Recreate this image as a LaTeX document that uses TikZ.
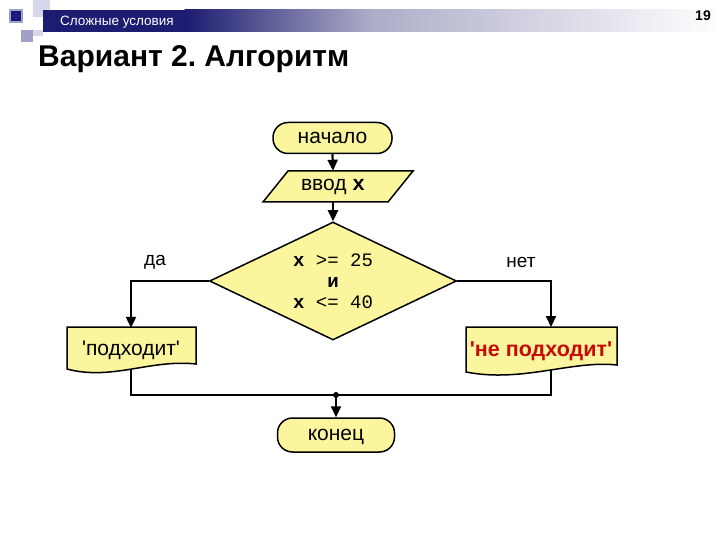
\documentclass[tikz,border=0pt]{standalone}
\usepackage{fontspec}
\setmainfont{Liberation Sans}[Ligatures=TeXOff]
\newfontfamily\monof{Liberation Mono}[Ligatures=TeXOff]
\usetikzlibrary{arrows.meta,shapes.geometric,calc}
\definecolor{yel}{RGB}{251,245,158}
\definecolor{navy}{RGB}{28,28,112}
\definecolor{midlav}{RGB}{172,172,200}
\definecolor{lav}{RGB}{214,214,236}
\definecolor{lav2}{RGB}{160,160,200}
\definecolor{redt}{RGB}{200,10,10}
\pgfdeclarelayer{bgw}
\pgfdeclarelayer{conn}
\pgfdeclarelayer{shp}
\pgfsetlayers{bgw,conn,shp,main}
\tikzset{
  ln/.style={line width=2.2pt},
  arr/.style={ln,-{Triangle[length=11pt,width=10pt]}},
  term/.style={draw,fill=yel,line width=1.5pt,rectangle,rounded corners=15pt,minimum width=118pt,minimum height=31pt,text depth=0pt,font=\fontsize{21}{24}\selectfont},
  shapebox/.style={draw,fill=yel,line width=1.5pt},
  txt/.style={inner sep=0pt,font=\fontsize{21}{24}\selectfont},
  lbl/.style={font=\fontsize{19}{22}\selectfont}
}
\begin{document}
\frenchspacing
\begin{tikzpicture}[x=1pt,y=-1pt]
\useasboundingbox (0,0) rectangle (720,540);
\begin{pgfonlayer}{bgw}
\fill[white] (0,0) rectangle (720,540);
% header decoration
\fill[lav] (33,0) rectangle (50,17);
\fill[lav] (43,17) rectangle (53,30);
\fill[lav2] (21,30) rectangle (33,42);
\fill[lav] (33,30) rectangle (43,36);
\fill[navy] (43,10) rectangle (185,32);
\shade[left color=navy,right color=midlav] (184.5,10) rectangle (370,32);
\shade[left color=midlav,right color=white] (369.5,10) rectangle (720,32);
\fill[lav2] (9,9) rectangle (23,23);
\fill[navy!90!blue] (11,11) rectangle (21,21);
\end{pgfonlayer}
\node[anchor=base west,text=white,inner sep=0pt,font=\fontsize{13.5}{16}\selectfont] (hdr) at (60,26) {Сложные условия};
\node[anchor=base east,inner sep=0pt,font=\fontsize{14}{16}\selectfont\bfseries] (pg) at (711,21) {19};
\node[anchor=base west,inner sep=0pt,font=\fontsize{30}{34}\selectfont\bfseries] (title) at (38,67) {Вариант 2. Алгоритм};
% flowchart
\node[term,minimum width=119pt,minimum height=31pt] (start) at (332.5,138) {начало};
\node[txt,minimum height=31pt] (inp) at (333,186.5) {ввод {\monof\bfseries x}};
\begin{pgfonlayer}{shp}
\draw[shapebox] (263,202) -- (288,171) -- (413,171) -- (388,202) -- cycle;
\draw[shapebox] (67,327) -- (196,327) -- (196,364) .. controls (150,359) and (112,381) .. (67,369) -- cycle;
\draw[shapebox] (466,327) -- (617,327) -- (617,365) .. controls (572,360) and (522,383) .. (466,372) -- cycle;
\end{pgfonlayer}
\node[diamond,draw,fill=yel,line width=1.5pt,minimum width=247pt,minimum height=118pt,inner sep=0pt,shape aspect=2.1,align=center,font=\monof\fontsize{19}{21}\selectfont] (dec) at (333,281) {\textbf{x} >= 25\\ \textbf{и}\\ \textbf{x} <= 40};
\node[txt,minimum height=40pt,text depth=0pt] (pd) at (131,348) {'подходит'};
\node[txt,text=redt,text depth=0pt,font=\fontsize{21.5}{24}\selectfont\bfseries] (npd) at (541,349) {'не подходит'};
\coordinate (npdtop) at (551,327);
\coordinate (pdbot) at (131,369);
\coordinate (npdbot) at (551,367);
\coordinate (m) at (336,395);
\node[term,minimum width=117pt,minimum height=34pt] (end) at (336,435) {конец};
\node[lbl] (yes) at (155,262) {да};
\node[lbl] (no) at (521,262) {нет};
\begin{pgfonlayer}{conn}
\draw[arr] (start.south) -- (inp.north);
\draw[arr] (inp.south) -- (dec.north);
\draw[arr] (dec.west) -| (pd.north);
\draw[arr] (dec.east) -| (npdtop);
\draw[ln] (pdbot) |- (m) -| (npdbot);
\end{pgfonlayer}
\fill (m) circle (3pt);
\draw[arr] (m) -- (end.north);
\end{tikzpicture}
\end{document}
